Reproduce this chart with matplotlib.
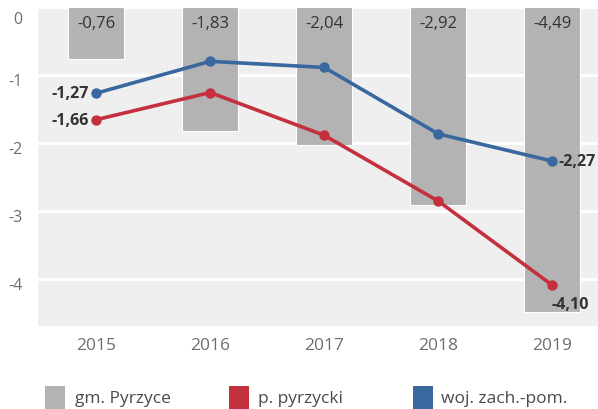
import numpy as np
import matplotlib
matplotlib.use("Agg")
import matplotlib.pyplot as plt
from matplotlib.patches import Rectangle
from matplotlib.transforms import ScaledTranslation

# data
years = ["2015", "2016", "2017", "2018", "2019"]
gmina = [-0.76, -1.83, -2.04, -2.92, -4.49]
powiat = [-1.66, -1.26, -1.89, -2.86, -4.10]
woj = [-1.27, -0.80, -0.89, -1.87, -2.27]

labels = ["gm. Pyrzyce", "p. pyrzycki", "woj. zach.-pom."]
c_bar = "#b3b3b3"
c_red = "#c5303e"
c_blue = "#39689e"
txt = "#333333"

plt.rcParams["font.family"] = ["Open Sans", "DejaVu Sans"]

def fmt(v):
    return f"{v:.2f}".replace(".", ",")

fig = plt.figure(figsize=(5.98, 4.10), dpi=100)
ax = fig.add_axes([0.0635, 0.2024, 0.9365, 0.778])
ax.set_facecolor("#efefef")

x = np.arange(len(years))
ax.bar(x, gmina, width=0.49, color=c_bar, edgecolor="white", linewidth=0.8, zorder=2)
ax.plot(x, powiat, color=c_red, lw=2.6, marker="o", ms=6.5, zorder=4)
ax.plot(x, woj, color=c_blue, lw=2.6, marker="o", ms=6.5, zorder=4)

# bar labels
for xi, v in zip(x, gmina):
    ax.text(xi, -0.11, fmt(v), ha="center", va="top", fontsize=12, color=txt, zorder=5)

# line labels
ax.text(x[0] - 0.06, woj[0], fmt(woj[0]), ha="right", va="center", fontsize=11.5,
        color=txt, fontweight="bold", zorder=5)
ax.text(x[0] - 0.06, powiat[0], fmt(powiat[0]), ha="right", va="center", fontsize=11.5,
        color=txt, fontweight="bold", zorder=5)
ax.text(x[-1] + 0.05, woj[-1], fmt(woj[-1]), ha="left", va="center", fontsize=11.5,
        color=txt, fontweight="bold", zorder=5)
ax.text(x[-1] - 0.01, powiat[-1] - 0.27, fmt(powiat[-1]), ha="left", va="center", fontsize=11.5,
        color=txt, fontweight="bold", zorder=5)

ax.set_xlim(-0.51, 4.40)
ax.set_ylim(-4.70, 0)
ax.set_yticks([0, -1, -2, -3, -4])
ax.set_yticklabels(["0", "-1", "-2", "-3", "-4"])
ax.set_xticks(x)
ax.set_xticklabels(years)
ax.yaxis.grid(True, color="white", lw=2.2, zorder=1)
ax.set_axisbelow(True)
for s in ax.spines.values():
    s.set_visible(False)
ax.tick_params(length=0, colors="#6e6e6e")
ax.tick_params(axis="y", pad=11, labelsize=11.5)
ax.tick_params(axis="x", pad=8, labelsize=12.5)

# y labels sit a little below their gridlines
shift = ScaledTranslation(0, -3 / 72, fig.dpi_scale_trans)
for lab in ax.get_yticklabels():
    lab.set_transform(lab.get_transform() + shift)
    if lab.get_text() == "0":
        lab.set_verticalalignment("top")

# legend
lx = [0.0753, 0.383, 0.691]
tx = [0.1254, 0.431, 0.737]
for xl, xt, col, lab in zip(lx, tx, [c_bar, c_red, c_blue], labels):
    fig.patches.append(Rectangle((xl, 0.0), 0.0334, 0.056, transform=fig.transFigure,
                                 facecolor=col, edgecolor="none"))
    fig.text(xt, 0.026, lab, ha="left", va="center", fontsize=12.5, color="#4a4a4a")

fig.savefig("out.png", dpi=100)
